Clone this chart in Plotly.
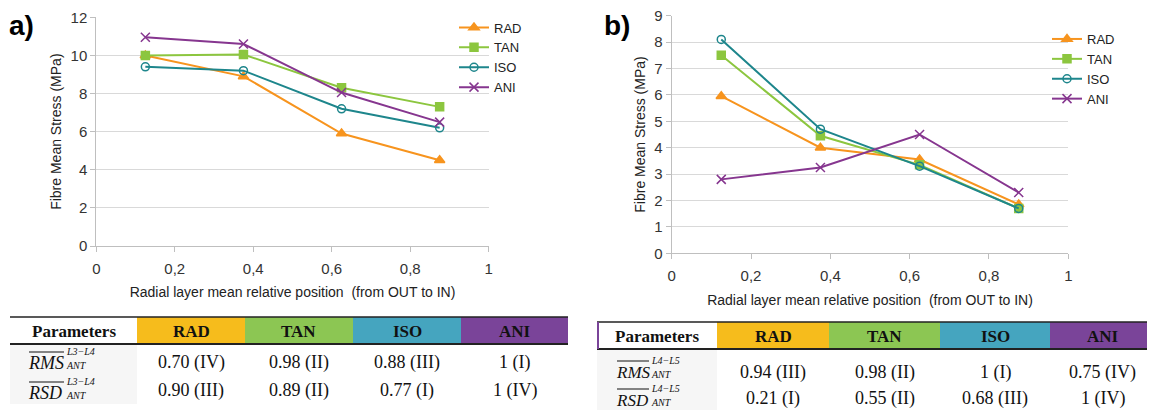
import plotly.graph_objects as go

W, H = 1155, 410
OX, OY = 8, 8  # default page body margin offsets the figure in the window

# ---------------- data ----------------
positions = [0.125, 0.375, 0.625, 0.875]
series_names = ["RAD", "TAN", "ISO", "ANI"]

a_RAD = [10.0, 8.9, 5.9, 4.5]
a_TAN = [10.0, 10.05, 8.3, 7.3]
a_ISO = [9.4, 9.2, 7.2, 6.2]
a_ANI = [10.95, 10.6, 8.05, 6.5]

b_RAD = [5.95, 4.0, 3.55, 1.85]
b_TAN = [7.5, 4.45, 3.35, 1.7]
b_ISO = [8.1, 4.7, 3.3, 1.7]
b_ANI = [2.8, 3.25, 4.5, 2.3]

x_tickvals = [0, 0.2, 0.4, 0.6, 0.8, 1]
x_ticktext = ["0", "0,2", "0,4", "0,6", "0,8", "1"]
a_ytickvals = [0, 2, 4, 6, 8, 10, 12]
b_ytickvals = [0, 1, 2, 3, 4, 5, 6, 7, 8, 9]

table_header = ["Parameters", "RAD", "TAN", "ISO", "ANI"]
row_labels = ["RMS", "RSD"]
a_row_sup = "L3\u2212L4"
a_rms = ["0.70 (IV)", "0.98 (II)", "0.88 (III)", "1 (I)"]
a_rsd = ["0.90 (III)", "0.89 (II)", "0.77 (I)", "1 (IV)"]
b_row_sup = "L4\u2212L5"
b_rms = ["0.94 (III)", "0.98 (II)", "1 (I)", "0.75 (IV)"]
b_rsd = ["0.21 (I)", "0.55 (II)", "0.68 (III)", "1 (IV)"]

# ---------------- styles ----------------
colors = {"RAD": "#F7941E", "TAN": "#8CC63F", "ISO": "#1E868C", "ANI": "#86368F"}
symbols = {"RAD": "triangle-up", "TAN": "square", "ISO": "circle-open", "ANI": "x-thin-open"}
msize = {"RAD": 9, "TAN": 8, "ISO": 8, "ANI": 9}
header_colors = ["#FFFFFF", "#F6BC1C", "#8CC653", "#45A5BF", "#7A4499"]


def px(x):
    return (x - OX) / W


def py(y):
    return 1 - (y - OY) / H


fig = go.Figure()

a_data = {"RAD": a_RAD, "TAN": a_TAN, "ISO": a_ISO, "ANI": a_ANI}
b_data = {"RAD": b_RAD, "TAN": b_TAN, "ISO": b_ISO, "ANI": b_ANI}

for name in series_names:
    fig.add_trace(go.Scatter(
        x=positions, y=a_data[name], name=name, mode="lines+markers",
        line=dict(color=colors[name], width=2),
        marker=dict(symbol=symbols[name], size=msize[name], color=colors[name],
                    line=dict(color=colors[name], width=1.5)),
        xaxis="x", yaxis="y", legend="legend"))
for name in series_names:
    fig.add_trace(go.Scatter(
        x=positions, y=b_data[name], name=name, mode="lines+markers",
        line=dict(color=colors[name], width=2),
        marker=dict(symbol=symbols[name], size=msize[name], color=colors[name],
                    line=dict(color=colors[name], width=1.5)),
        xaxis="x2", yaxis="y2", legend="legend2"))

tickfont = dict(family="Liberation Sans, Arial, sans-serif", size=15, color="#333333")
titlefont = dict(family="Liberation Sans, Arial, sans-serif", size=14, color="#222222")
xtitle = "Radial layer mean relative position  (from OUT to IN)"
ytitle = "Fibre Mean Stress (MPa)"

common_x = dict(range=[0, 1], tickvals=x_tickvals, ticktext=x_ticktext, showgrid=False,
                showline=True, linecolor="#BFBFBF", linewidth=1, ticks="outside",
                ticklen=5, tickcolor="#BFBFBF", tickfont=tickfont, zeroline=False,
                automargin=False, ticklabelstandoff=4, ticklabeloverflow="allow",
                title=dict(text=xtitle, font=titlefont, standoff=11))
common_y = dict(showgrid=True, gridcolor="#D9D9D9", gridwidth=1, showline=True,
                linecolor="#BFBFBF", linewidth=1, ticks="outside", ticklen=5,
                tickcolor="#BFBFBF", tickfont=tickfont, zeroline=False,
                automargin=False, ticklabeloverflow="allow",
                title=dict(text=ytitle, font=titlefont, standoff=5))

legfont = dict(family="Liberation Sans, Arial", size=13, color="#222")
fig.update_layout(
    width=W, height=H, autosize=False,
    margin=dict(l=0, r=0, t=0, b=0, autoexpand=False),
    paper_bgcolor="white", plot_bgcolor="white",
    xaxis=dict(domain=[px(96.3), px(488.7)], anchor="y", **common_x),
    yaxis=dict(domain=[py(246), py(17.3)], anchor="x", range=[0, 12],
               tickvals=a_ytickvals, **common_y),
    xaxis2=dict(domain=[px(671.7), px(1068.3)], anchor="y2", **common_x),
    yaxis2=dict(domain=[py(253.3), py(15.7)], anchor="x2", range=[0, 9],
                tickvals=b_ytickvals, **common_y),
    legend=dict(x=px(454), y=py(12.5), xanchor="left", yanchor="top",
                bgcolor="rgba(0,0,0,0)", font=legfont, tracegroupgap=0, itemwidth=30),
    legend2=dict(x=px(1047), y=py(24), xanchor="left", yanchor="top",
                 bgcolor="rgba(0,0,0,0)", font=legfont, tracegroupgap=0, itemwidth=30),
    showlegend=True,
)

shapes = []
annotations = []

# panel labels
annotations.append(dict(text="<b>a)</b>", x=px(8), y=py(8.5), xref="paper", yref="paper",
                        xanchor="left", yanchor="top", showarrow=False, borderpad=0,
                        font=dict(family="Liberation Sans, Arial", size=28, color="black")))
annotations.append(dict(text="<b>b)</b>", x=px(603), y=py(8.5), xref="paper", yref="paper",
                        xanchor="left", yanchor="top", showarrow=False, borderpad=0,
                        font=dict(family="Liberation Sans, Arial", size=28, color="black")))

serif = "Liberation Serif, Times New Roman, serif"


def draw_table(cols, top, hbot, bottom, row_centers, rows, sup, row_label_geom, purple_left=False):
    for i in range(5):
        shapes.append(dict(type="rect", xref="paper", yref="paper",
                           x0=px(cols[i]), x1=px(cols[i + 1]), y0=py(hbot), y1=py(top),
                           fillcolor=header_colors[i], line=dict(width=0), layer="below"))
        annotations.append(dict(text="<b>%s</b>" % table_header[i],
                                x=px((cols[i] + cols[i + 1]) / 2), y=py((top + hbot) / 2 + 1),
                                xref="paper", yref="paper", xanchor="center", yanchor="middle",
                                showarrow=False, font=dict(family=serif, size=17, color="#111")))
    shapes.append(dict(type="rect", xref="paper", yref="paper",
                       x0=px(cols[0]), x1=px(cols[1]), y0=py(bottom), y1=py(hbot),
                       fillcolor="#F6F6F6", line=dict(width=0), layer="below"))
    shapes.append(dict(type="line", xref="paper", yref="paper",
                       x0=px(cols[0]), x1=px(cols[5]), y0=py(top), y1=py(top),
                       line=dict(color="#222", width=1.5)))
    shapes.append(dict(type="line", xref="paper", yref="paper",
                       x0=px(cols[0]), x1=px(cols[5]), y0=py(hbot), y1=py(hbot),
                       line=dict(color="#222", width=2)))
    if purple_left:
        shapes.append(dict(type="line", xref="paper", yref="paper",
                           x0=px(cols[0] + 1), x1=px(cols[0] + 1), y0=py(hbot), y1=py(top),
                           line=dict(color="#7A4499", width=2)))
    lx, lw, fs, dys = row_label_geom
    for r, (vals, lab) in enumerate(zip(rows, row_labels)):
        yc = row_centers[r]
        for i, v in enumerate(vals):
            annotations.append(dict(text=v, x=px((cols[i + 1] + cols[i + 2]) / 2), y=py(yc),
                                    xref="paper", yref="paper", xanchor="center", yanchor="middle",
                                    showarrow=False, font=dict(family=serif, size=18, color="#111")))
        yl = yc + dys[r]
        annotations.append(dict(text="<i>%s</i>" % lab, x=px(lx), y=py(yl), xref="paper",
                                yref="paper", xanchor="left", yanchor="middle", showarrow=False,
                                borderpad=0, font=dict(family=serif, size=fs, color="#111")))
        shapes.append(dict(type="line", xref="paper", yref="paper",
                           x0=px(lx + 2), x1=px(lx + lw), y0=py(yl - 11), y1=py(yl - 11),
                           line=dict(color="#111", width=1)))
        annotations.append(dict(text="<i>%s</i>" % sup, x=px(lx + lw + 1), y=py(yl - 12),
                                xref="paper", yref="paper", xanchor="left", yanchor="middle",
                                borderpad=0, showarrow=False,
                                font=dict(family=serif, size=10, color="#111")))
        annotations.append(dict(text="<i>ANT</i>", x=px(lx + lw + 1), y=py(yl + 2),
                                xref="paper", yref="paper", xanchor="left", yanchor="middle",
                                borderpad=0, showarrow=False,
                                font=dict(family=serif, size=10, color="#111")))


draw_table([10, 137, 245, 353, 461, 568], 317, 344, 404, [362, 390], [a_rms, a_rsd], a_row_sup,
           (27, 37, 18, [1, 3]))
draw_table([597, 717, 829, 940, 1050, 1155], 322, 349, 412, [372, 398], [b_rms, b_rsd], b_row_sup,
           (615, 34, 17, [0, 2]), purple_left=True)

fig.update_layout(shapes=shapes, annotations=annotations)

fig.write_html("out.html")
